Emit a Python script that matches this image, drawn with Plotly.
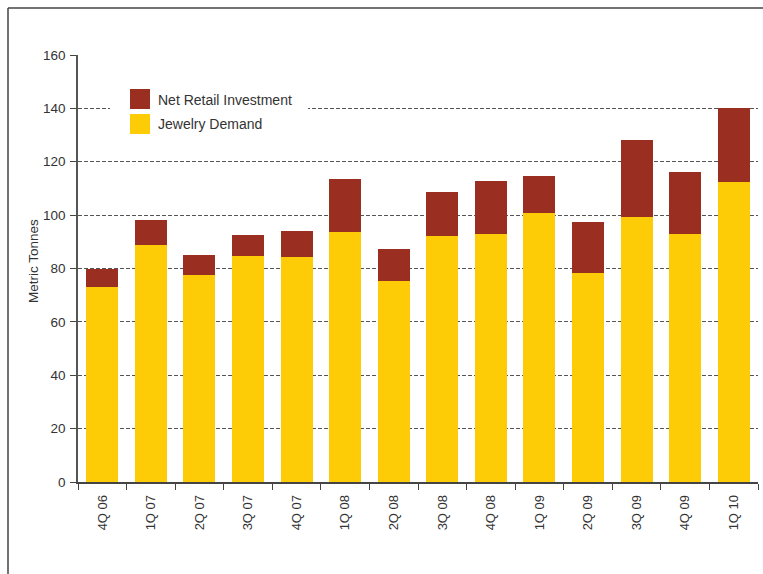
import plotly.graph_objects as go

quarters = ["4Q 06", "1Q 07", "2Q 07", "3Q 07", "4Q 07", "1Q 08", "2Q 08",
            "3Q 08", "4Q 08", "1Q 09", "2Q 09", "3Q 09", "4Q 09", "1Q 10"]
jewelry = [73.1, 88.8, 77.6, 84.7, 84.3, 93.7, 75.3,
           92.2, 92.9, 100.8, 78.3, 99.3, 92.9, 112.4]
totals = [80.0, 98.2, 85.0, 92.5, 94.0, 113.5, 87.3,
          108.7, 112.8, 114.6, 97.4, 128.1, 116.1, 140.0]
net_retail = [round(t - j, 1) for t, j in zip(totals, jewelry)]

y_ticks = [0, 20, 40, 60, 80, 100, 120, 140, 160]

YELLOW = "#FECC06"
RED = "#9A2F21"
FONT = "Liberation Sans, Arial, sans-serif"

W, H = 763, 574
ML, MR, MT, MB = 78, 5, 55, 92

fig = go.Figure()
fig.add_trace(go.Bar(x=quarters, y=jewelry, name="Jewelry Demand",
                     marker=dict(color=YELLOW, line=dict(width=0))))
fig.add_trace(go.Bar(x=quarters, y=net_retail, name="Net Retail Investment",
                     marker=dict(color=RED, line=dict(width=0))))

def px_x(p):
    return (p - ML) / (W - ML - MR)

def px_y(p):
    return (H - MB - p) / (H - MT - MB)

shapes = [
    # frame lines (top and left)
    dict(type="line", xref="paper", yref="paper", x0=px_x(8), x1=px_x(763),
         y0=px_y(8), y1=px_y(8), line=dict(color="#444444", width=1.5), layer="above"),
    dict(type="line", xref="paper", yref="paper", x0=px_x(8), x1=px_x(8),
         y0=px_y(8), y1=px_y(574), line=dict(color="#444444", width=1.5), layer="above"),
    # white legend backing
    dict(type="rect", xref="paper", yref="paper", x0=px_x(110), x1=px_x(308),
         y0=px_y(137), y1=px_y(86), fillcolor="white", line=dict(width=0), layer="above"),
    # legend swatches
    dict(type="rect", xref="paper", yref="paper", x0=px_x(130), x1=px_x(150),
         y0=px_y(109), y1=px_y(89), fillcolor=RED, line=dict(width=0), layer="above"),
    dict(type="rect", xref="paper", yref="paper", x0=px_x(130), x1=px_x(150),
         y0=px_y(134), y1=px_y(114), fillcolor=YELLOW, line=dict(width=0), layer="above"),
]

annotations = [
    dict(text="Net Retail Investment", xref="paper", yref="paper", x=px_x(156),
         y=px_y(99.5), xanchor="left", yanchor="middle", showarrow=False,
         font=dict(family=FONT, size=14, color="#333333")),
    dict(text="Jewelry Demand", xref="paper", yref="paper", x=px_x(156),
         y=px_y(124.5), xanchor="left", yanchor="middle", showarrow=False,
         font=dict(family=FONT, size=14, color="#333333")),
    dict(text="Metric Tonnes", xref="paper", yref="paper", x=px_x(33),
         y=px_y(261), xanchor="center", yanchor="middle", textangle=-90,
         showarrow=False, font=dict(family=FONT, size=13.5, color="#333333")),
]

fig.update_layout(
    width=W, height=H,
    margin=dict(l=ML, r=MR, t=MT, b=MB, pad=0),
    barmode="stack", bargap=0.34,
    plot_bgcolor="white", paper_bgcolor="white",
    showlegend=False,
    font=dict(family=FONT, size=13, color="#333333"),
    shapes=shapes, annotations=annotations,
    xaxis=dict(
        type="category", tickangle=-90, tickson="boundaries",
        ticks="outside", ticklen=6, tickwidth=1.3, tickcolor="#444444",
        showline=True, linecolor="#444444", linewidth=1.5,
        showgrid=False, tickfont=dict(family=FONT, size=13, color="#333333"),
        range=[-0.5, len(quarters) - 0.5], ticklabelstandoff=6,
    ),
    yaxis=dict(
        range=[0, 160], tickvals=y_ticks, ticks="outside", ticklen=6,
        tickwidth=1.3, tickcolor="#444444",
        showline=True, linecolor="#555555", linewidth=1.5,
        showgrid=True, gridcolor="#555555", gridwidth=1, griddash="4px,2px",
        zeroline=False, tickfont=dict(family=FONT, size=13.5, color="#333333"),
        ticklabelstandoff=2,
    ),
)

fig.write_html("out.html", config={"displayModeBar": False},
               post_script="document.body.style.margin='0';document.body.style.overflow='hidden';")
